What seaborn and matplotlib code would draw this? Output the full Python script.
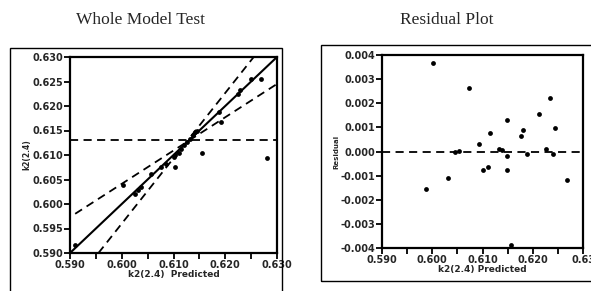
import numpy as np
import pandas as pd
import matplotlib
matplotlib.use("Agg")
import matplotlib.pyplot as plt
from matplotlib.patches import Rectangle
import seaborn as sns

# Whole Model Test: predicted vs actual k2(2.4)
pred = [0.5910, 0.6002, 0.6025, 0.6031, 0.6038, 0.6057, 0.6076, 0.6085, 0.6100, 0.6103,
        0.6103, 0.6110, 0.6114, 0.6120, 0.6127, 0.6131, 0.6138, 0.6142, 0.6146, 0.6156,
        0.6188, 0.6192, 0.6225, 0.6229, 0.6249, 0.6269, 0.6281]
actual = [0.5917, 0.6039, 0.6021, 0.6028, 0.6034, 0.6061, 0.6075, 0.6082, 0.6096, 0.6101,
          0.6075, 0.6105, 0.6112, 0.6121, 0.6126, 0.6133, 0.6140, 0.6146, 0.6148, 0.6105,
          0.6188, 0.6168, 0.6225, 0.6232, 0.6255, 0.6256, 0.6094]
mean_actual = 0.6131
fit_x = [0.590, 0.630]
fit_y = [0.590, 0.630]
conf_lo_x = [0.5910, 0.6300]
conf_lo_y = [0.5980, 0.6245]
conf_hi_x = [0.5955, 0.6255]
conf_hi_y = [0.5900, 0.6300]

# Residual Plot
res_pred = [0.6002, 0.5987, 0.6031, 0.6046, 0.6053, 0.6073, 0.6093, 0.6100, 0.6111, 0.6115,
            0.6132, 0.6139, 0.6148, 0.6148, 0.6148, 0.6156, 0.6176, 0.6181, 0.6188, 0.6213,
            0.6226, 0.6235, 0.6240, 0.6245, 0.6268]
residual = [0.00368, -0.00155, -0.00110, -0.00003, 0.00003, 0.00262, 0.00032, -0.00076, -0.00066, 0.00076,
            0.00011, 0.00008, 0.00131, -0.00020, -0.00076, -0.00386, 0.00066, 0.00090, -0.00010, 0.00154,
            0.00011, 0.00220, -0.00010, 0.00099, -0.00117]

lft_ticks = [0.590, 0.600, 0.610, 0.620, 0.630]
lft_yticks = [0.590, 0.595, 0.600, 0.605, 0.610, 0.615, 0.620, 0.625, 0.630]
res_yticks = [-0.004, -0.003, -0.002, -0.001, 0.000, 0.001, 0.002, 0.003, 0.004]

sns.set_style("white")
plt.rcParams['font.family'] = ['DejaVu Sans']

fig = plt.figure(figsize=(5.91, 2.91), dpi=100)
ax1 = fig.add_axes([70 / 591, 1 - 253 / 291, 207 / 591, 196 / 291])
ax2 = fig.add_axes([382 / 591, 1 - 248 / 291, 201 / 591, 193 / 291])

# outer frames around each report panel
fig.patches.append(Rectangle((10 / 591, -0.05), 272 / 591, 1.05 - 48 / 291, transform=fig.transFigure,
                             fill=False, edgecolor='black', linewidth=1.0))
fig.patches.append(Rectangle((321 / 591, 1 - 281 / 291), 280 / 591, 236 / 291, transform=fig.transFigure,
                             fill=False, edgecolor='black', linewidth=1.0))

fig.text(140 / 591, 1 - 20 / 291, "Whole Model Test", family='Liberation Serif', fontsize=12.5,
         ha='center', va='center')
fig.text(447 / 591, 1 - 20 / 291, "Residual Plot", family='Liberation Serif', fontsize=12.5,
         ha='center', va='center')

dash = (0, (4.5, 3))

# left panel
sns.lineplot(x=fit_x, y=fit_y, ax=ax1, color='black', linewidth=1.5)
sns.lineplot(x=conf_lo_x, y=conf_lo_y, ax=ax1, color='black', linewidth=1.3, linestyle=dash)
sns.lineplot(x=conf_hi_x, y=conf_hi_y, ax=ax1, color='black', linewidth=1.3, linestyle=dash)
ax1.axhline(mean_actual, color='black', linewidth=1.3, linestyle=dash)
sns.scatterplot(x=pred, y=actual, ax=ax1, color='black', s=12, edgecolor='black', linewidth=0)
ax1.set_xlim(0.590, 0.630)
ax1.set_ylim(0.590, 0.630)
ax1.set_xticks(np.arange(0.590, 0.6301, 0.005), minor=True)
ax1.set_xticks(lft_ticks)
ax1.set_xticklabels(["%.3f" % t for t in lft_ticks])
ax1.set_yticks(lft_yticks)
ax1.set_yticklabels(["%.3f" % t for t in lft_yticks])
ax1.set_xlabel("k2(2.4)  Predicted", fontsize=6.5, fontweight='bold', labelpad=0)
ax1.set_ylabel("k2(2.4)", fontsize=5.5, fontweight='bold', labelpad=1)

# right panel
ax2.axhline(0.0, color='black', linewidth=1.3, linestyle=dash)
sns.scatterplot(x=res_pred, y=residual, ax=ax2, color='black', s=12, edgecolor='black', linewidth=0)
ax2.set_xlim(0.590, 0.630)
ax2.set_ylim(-0.004, 0.004)
ax2.set_xticks(np.arange(0.590, 0.6301, 0.005), minor=True)
ax2.set_xticks(lft_ticks)
ax2.set_xticklabels(["%.3f" % t for t in lft_ticks[:-1]] + ["0.63"])
ax2.set_yticks(res_yticks)
ax2.set_yticklabels(["%.3f" % t for t in res_yticks])
ax2.set_xlabel("k2(2.4) Predicted", fontsize=6.5, fontweight='bold', labelpad=0)
ax2.set_ylabel("Residual", fontsize=5, fontweight='bold', labelpad=1)

for ax in (ax1, ax2):
    for sp in ax.spines.values():
        sp.set_visible(True)
        sp.set_color('black')
        sp.set_linewidth(1.6)
    ax.tick_params(which='both', direction='out', length=4, width=1.3, color='black',
                   labelsize=7, pad=1, bottom=True, left=True)
    for lab in ax.get_xticklabels() + ax.get_yticklabels():
        lab.set_fontweight('bold')
    ax.get_legend() and ax.get_legend().remove()

fig.savefig("out.png", dpi=100)
